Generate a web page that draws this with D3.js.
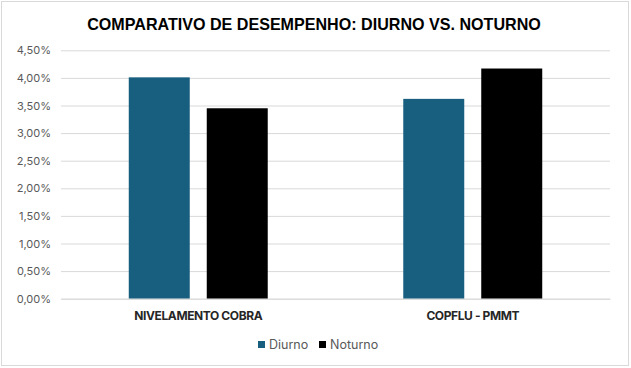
<!DOCTYPE html>
<html><head><meta charset="utf-8">
<script src="https://cdn.jsdelivr.net/npm/d3@7"></script>
<style>body{margin:0;background:#fff}</style>
</head><body>
<svg id="c" width="631" height="368"></svg>
<script>
const categories = ["NIVELAMENTO COBRA", "COPFLU - PMMT"];
const seriesNames = ["Diurno", "Noturno"];
const diurno = [0.0401, 0.0362];
const noturno = [0.0345, 0.0417];
const yTicks = [0, 0.005, 0.01, 0.015, 0.02, 0.025, 0.03, 0.035, 0.04, 0.045];
const colors = ["#175E7F", "#000000"];

const svg = d3.select("#c");
svg.append("rect").attr("x", 1.5).attr("y", 1.5).attr("width", 627).attr("height", 364)
  .attr("fill", "#fff").attr("stroke", "#d9d9d9");

const mLeft = 61, mRight = 610, mTop = 50.3, mBottom = 298.7;
const y = d3.scaleLinear().domain([0, 0.045]).range([mBottom, mTop]);
const x0 = d3.scaleBand().domain(categories).range([mLeft, mRight]).paddingInner(0).paddingOuter(0);
const x1 = d3.scaleBand().domain(seriesNames).range([0, x0.bandwidth()]).paddingInner(0.218).paddingOuter(0.869);

const fmt = v => d3.format(".2f")(v * 100).replace(".", ",") + "%";

const yAxis = d3.axisLeft(y).tickValues(yTicks).tickSize(-(mRight - mLeft)).tickFormat(fmt);
const gy = svg.append("g").attr("transform", `translate(${mLeft},0)`).call(yAxis);
gy.select(".domain").remove();
gy.selectAll(".tick line").attr("stroke", "#d9d9d9").attr("stroke-width", 1);
gy.selectAll(".tick text").attr("x", -10).attr("fill", "#595959")
  .style("font-family", "Inter, 'Open Sans', sans-serif").style("font-size", "11px");

const data = categories.map((c, i) => ({cat: c, vals: [diurno[i], noturno[i]]}));
const g = svg.append("g");
data.forEach(d => {
  d.vals.forEach((v, j) => {
    g.append("rect")
      .attr("x", x0(d.cat) + x1(seriesNames[j]))
      .attr("y", y(v))
      .attr("width", x1.bandwidth())
      .attr("height", y(0) - y(v))
      .attr("fill", colors[j]);
  });
});

const xAxis = d3.axisBottom(x0).tickSize(0).tickPadding(13);
const gx = svg.append("g").attr("transform", `translate(0,${mBottom})`).call(xAxis);
gx.select(".domain").attr("stroke", "#d9d9d9");
gx.selectAll(".tick text").attr("fill", "#262626").style("font-family", "Inter, sans-serif")
  .style("font-size", "12px").style("font-weight", "700").style("letter-spacing", "-0.4px");

svg.append("text").attr("x", 314).attr("y", 30).attr("text-anchor", "middle")
  .style("font-family", "'Liberation Sans', Arial, sans-serif").style("font-weight", "bold")
  .style("font-size", "16.1px").attr("fill", "#000").text("COMPARATIVO DE DESEMPENHO: DIURNO VS. NOTURNO");

const legend = svg.append("g").attr("transform", "translate(258,349)");
const lx = [0, 61];
seriesNames.forEach((n, i) => {
  legend.append("rect").attr("x", lx[i]).attr("y", -8).attr("width", 7).attr("height", 7).attr("fill", colors[i]);
  legend.append("text").attr("x", lx[i] + 11).attr("y", 0).attr("fill", "#595959")
    .style("font-family", "Inter, sans-serif").style("font-size", "12.5px").text(n);
});
</script>
</body></html>
